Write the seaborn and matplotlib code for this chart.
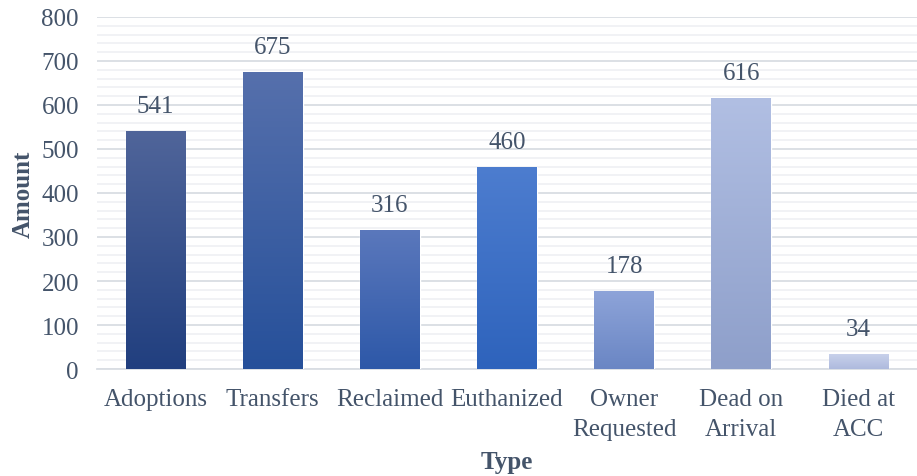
import numpy as np
import pandas as pd
import matplotlib
matplotlib.use('Agg')
import matplotlib.pyplot as plt
from matplotlib.colors import LinearSegmentedColormap
from matplotlib.ticker import MultipleLocator
import seaborn as sns

# data
types = ['Adoptions', 'Transfers', 'Reclaimed', 'Euthanized',
         'Owner\nRequested', 'Dead on\nArrival', 'Died at\nACC']
amounts = [541, 675, 316, 460, 178, 616, 34]

# per-bar gradient (top colour, bottom colour)
top_colors = ['#50659A', '#5670AC', '#5B78BC', '#4D7DCF', '#8EA4D9', '#B1BFE3', '#C8D1EB']
bottom_colors = ['#213F7F', '#26509A', '#2D58A8', '#2E63BC', '#6A86C4', '#8E9FCA', '#AEBADD']

TEXT = '#44546A'
FS = 18

df = pd.DataFrame({'Type': types, 'Amount': amounts})

sns.set_style('white')
plt.rcParams['font.family'] = ['Liberation Serif', 'DejaVu Serif']

fig = plt.figure(figsize=(9.17, 4.77), dpi=100)
ax = fig.add_axes([0.1058, 0.2243, 0.8942, 0.738])

sns.barplot(data=df, x='Type', y='Amount', hue='Type', palette=bottom_colors,
            width=0.51, legend=False, ax=ax, zorder=3)

# vertical gradient on every bar, clipped to the bar
for patch, top, bottom in zip(ax.patches, top_colors, bottom_colors):
    x0, y0 = patch.get_x(), patch.get_y()
    w, h = patch.get_width(), patch.get_height()
    cmap = LinearSegmentedColormap.from_list('g', [bottom, top])
    grad = np.linspace(0, 1, 256).reshape(-1, 1)
    im = ax.imshow(grad, cmap=cmap, aspect='auto', origin='lower',
                   extent=[x0, x0 + w, y0, y0 + h], zorder=4)
    im.set_clip_path(patch)

ax.set_ylim(0, 800)
ax.set_xlim(-0.5, len(types) - 0.5)

for c in ax.containers:
    ax.bar_label(c, padding=10, fontsize=FS, color=TEXT, zorder=5)

# gridlines
ax.yaxis.set_major_locator(MultipleLocator(100))
ax.yaxis.set_minor_locator(MultipleLocator(20))
ax.grid(axis='y', which='major', color='#D9DDE3', linewidth=1.3, zorder=0)
ax.grid(axis='y', which='minor', color='#F0F1F4', linewidth=1.3, zorder=0)
ax.set_axisbelow(True)

for side in ['top', 'right', 'left']:
    ax.spines[side].set_visible(False)
ax.spines['bottom'].set_color('#D9DDE3')
ax.spines['bottom'].set_linewidth(1.3)

ax.tick_params(axis='both', which='both', length=0, labelsize=FS, labelcolor=TEXT)
ax.tick_params(axis='y', pad=13)
ax.tick_params(axis='x', pad=14)
for lbl in ax.get_xticklabels():
    lbl.set_linespacing(1.45)

ax.set_xlabel('Type', fontsize=FS, fontweight='bold', color=TEXT, labelpad=7)
ax.set_ylabel('Amount', fontsize=FS, fontweight='bold', color=TEXT, labelpad=5)

fig.savefig('out.png', dpi=100)
